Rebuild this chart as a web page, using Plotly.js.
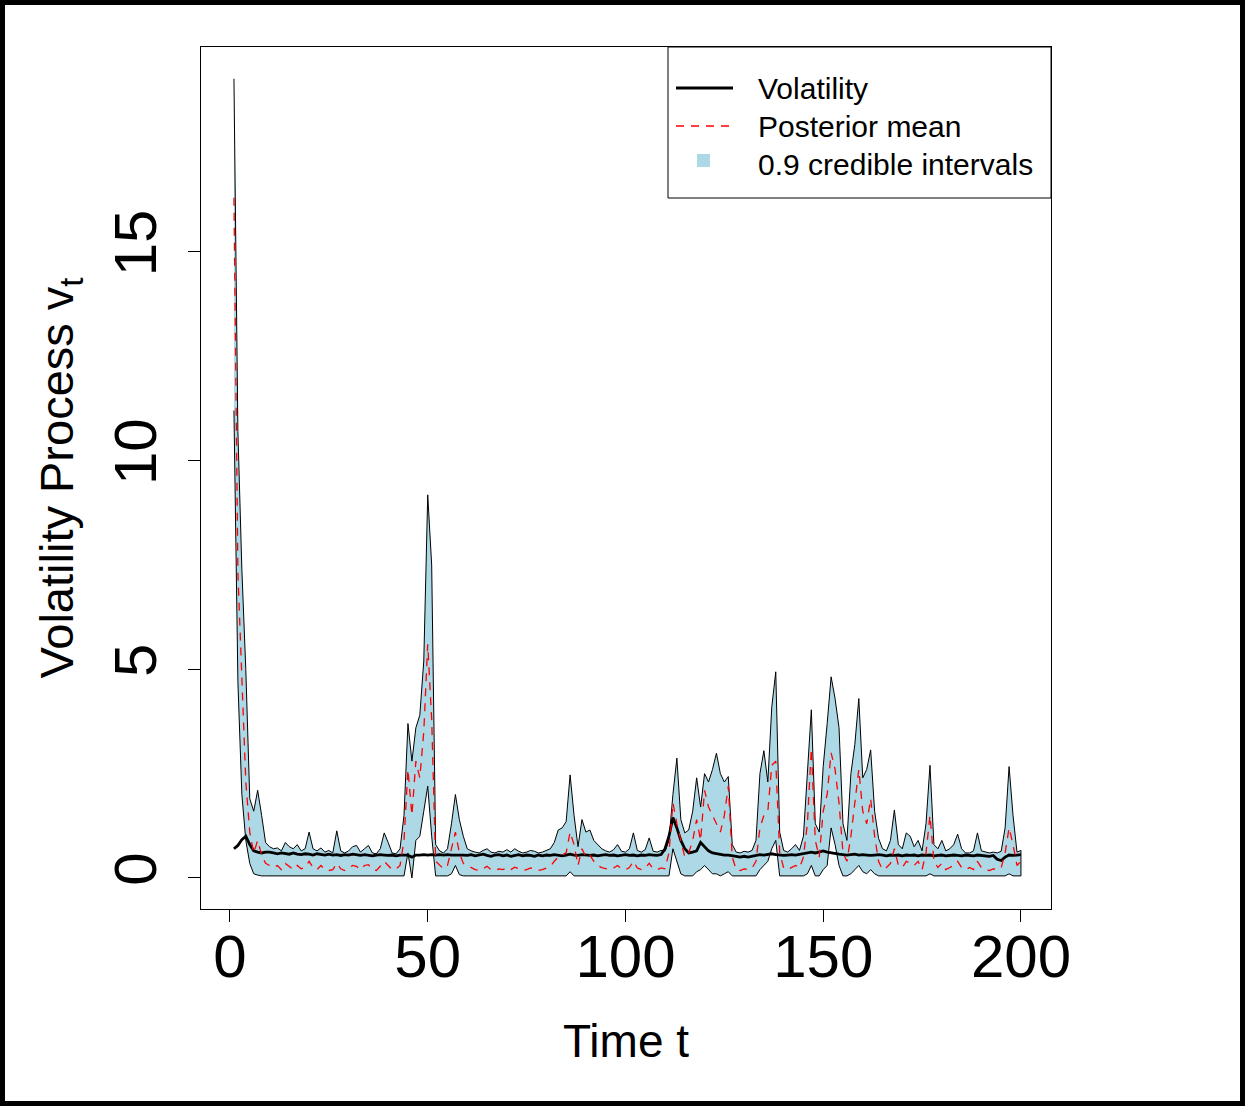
<!DOCTYPE html>
<html>
<head>
<meta charset="utf-8">
<script src="https://cdn.plot.ly/plotly-3.0.1.min.js"></script>
<style>
  html, body { margin: 0; padding: 0; background: #fff; }
  #wrap { position: relative; width: 1245px; height: 1106px; }
  #chart { position: absolute; left: 0; top: 0; width: 1245px; height: 1106px; }
  #frame { position: absolute; left: 0; top: 0; width: 1245px; height: 1106px; box-sizing: border-box; border: 5px solid #000; pointer-events: none; }
</style>
</head>
<body>
<div id="wrap"><div id="chart"></div><div id="frame"></div></div>
<script>
// ---- data ----
const upperCI = [
  19.15, 10.7, 7.4, 5.0, 1.9, 1.6, 2.1, 1.5, 0.85, 0.75,
  0.70, 0.72, 0.65, 0.85, 0.75, 0.70, 0.80, 0.65, 0.70, 1.10,
  0.70, 0.65, 0.72, 0.62, 0.66, 0.60, 1.13, 0.65, 0.60, 0.65,
  0.75, 0.78, 0.62, 0.70, 0.78, 0.60, 0.58, 0.70, 1.08, 0.85,
  0.60, 0.58, 0.70, 1.50, 3.70, 2.80, 3.60, 3.90, 5.20, 9.18,
  7.50, 0.80, 0.65, 0.60, 0.70, 1.30, 2.00, 1.40, 1.00, 0.70,
  0.65, 0.62, 0.60, 0.66, 0.70, 0.62, 0.60, 0.64, 0.62, 0.68,
  0.62, 0.70, 0.64, 0.60, 0.62, 0.66, 0.64, 0.60, 0.62, 0.66,
  0.70, 0.85, 1.15, 1.20, 1.35, 2.47, 1.50, 0.75, 1.40, 1.10,
  1.15, 0.90, 0.80, 0.70, 0.65, 0.62, 0.68, 0.80, 0.64, 0.62,
  0.70, 1.08, 0.66, 0.62, 0.68, 0.96, 0.64, 0.62, 0.66, 0.64,
  0.90, 2.00, 2.87, 1.40, 1.08, 1.15, 1.60, 2.40, 1.70, 2.50,
  2.30, 2.60, 2.99, 2.50, 2.30, 2.43, 0.80, 0.62, 0.60, 0.64,
  0.62, 0.66, 0.90, 2.50, 3.05, 2.30, 4.10, 4.94, 1.10, 0.66,
  0.62, 0.70, 0.80, 0.66, 1.00, 2.60, 4.03, 1.30, 1.10, 2.67,
  3.70, 4.82, 4.30, 3.60, 1.30, 0.90, 2.50, 3.20, 4.30, 2.40,
  2.60, 3.07, 1.60, 0.95, 0.70, 0.65, 0.90, 1.63, 0.80, 0.70,
  1.08, 1.00, 0.75, 0.90, 0.65, 1.30, 2.70, 0.80, 0.70, 0.90,
  0.65, 0.70, 0.80, 1.05, 0.70, 0.60, 0.60, 0.65, 1.08, 0.65,
  0.62, 0.60, 0.62, 0.60, 0.64, 1.20, 2.67, 1.50, 0.62, 0.66
];
const posteriorMean = [
  16.3, 7.3, 4.8, 2.3, 1.1, 0.6, 0.9, 0.55, 0.35, 0.30,
  0.25, 0.30, 0.20, 0.35, 0.28, 0.20, 0.30, 0.22, 0.25, 0.40,
  0.25, 0.20, 0.30, 0.20, 0.18, 0.20, 0.35, 0.22, 0.18, 0.25,
  0.30, 0.28, 0.20, 0.30, 0.32, 0.20, 0.18, 0.28, 0.40, 0.30,
  0.20, 0.22, 0.30, 0.90, 2.60, 1.50, 2.80, 2.40, 3.50, 5.60,
  3.80, 0.40, 0.30, 0.22, 0.30, 0.70, 1.10, 0.60, 0.35, 0.30,
  0.25, 0.20, 0.18, 0.22, 0.28, 0.20, 0.18, 0.22, 0.20, 0.25,
  0.20, 0.26, 0.22, 0.18, 0.20, 0.24, 0.22, 0.18, 0.20, 0.24,
  0.28, 0.40, 0.50, 0.55, 0.60, 1.10, 0.80, 0.30, 0.70, 0.50,
  0.55, 0.40, 0.30, 0.25, 0.22, 0.20, 0.24, 0.30, 0.22, 0.20,
  0.25, 0.40, 0.24, 0.20, 0.24, 0.35, 0.22, 0.20, 0.24, 0.22,
  0.60, 1.80, 1.30, 0.90, 0.50, 0.60, 0.90, 1.40, 0.90, 2.10,
  1.70, 1.50, 1.30, 1.10, 1.50, 2.20, 0.50, 0.20, 0.18, 0.22,
  0.20, 0.24, 0.40, 1.20, 1.50, 1.60, 2.70, 2.80, 0.60, 0.24,
  0.20, 0.26, 0.30, 0.24, 0.50, 1.30, 3.10, 0.90, 0.50, 1.60,
  2.00, 3.00, 2.60, 1.80, 0.60, 0.40, 1.00, 1.80, 2.60, 1.60,
  1.30, 1.90, 1.00, 0.40, 0.20, 0.25, 0.35, 0.70, 0.30, 0.25,
  0.40, 0.35, 0.30, 0.40, 0.20, 0.60, 1.50, 0.40, 0.25, 0.35,
  0.20, 0.25, 0.30, 0.40, 0.25, 0.20, 0.25, 0.20, 0.40, 0.25,
  0.20, 0.18, 0.22, 0.20, 0.24, 0.60, 1.20, 0.80, 0.30, 0.40
];
const lowerCI = [
  11.2, 4.7, 2.0, 0.9, 0.35, 0.10, 0.07, 0.05, 0.05, 0.05,
  0.05, 0.05, 0.05, 0.05, 0.05, 0.05, 0.05, 0.05, 0.05, 0.05,
  0.05, 0.05, 0.05, 0.05, 0.05, 0.05, 0.05, 0.05, 0.05, 0.05,
  0.05, 0.05, 0.05, 0.05, 0.05, 0.05, 0.05, 0.05, 0.05, 0.05,
  0.05, 0.05, 0.05, 0.05, 0.60, 0.00, 0.90, 1.00, 1.60, 2.20,
  1.00, 0.05, 0.05, 0.05, 0.05, 0.10, 0.30, 0.08, 0.05, 0.05,
  0.05, 0.05, 0.05, 0.05, 0.05, 0.05, 0.05, 0.05, 0.05, 0.05,
  0.05, 0.05, 0.05, 0.05, 0.05, 0.05, 0.05, 0.05, 0.05, 0.05,
  0.05, 0.05, 0.05, 0.05, 0.05, 0.15, 0.05, 0.05, 0.05, 0.05,
  0.05, 0.05, 0.05, 0.05, 0.05, 0.05, 0.05, 0.05, 0.05, 0.05,
  0.05, 0.05, 0.05, 0.05, 0.05, 0.05, 0.05, 0.05, 0.05, 0.05,
  0.05, 0.70, 0.40, 0.10, 0.05, 0.05, 0.05, 0.15, 0.20, 0.30,
  0.20, 0.10, 0.10, 0.05, 0.10, 0.15, 0.05, 0.05, 0.05, 0.05,
  0.05, 0.05, 0.05, 0.20, 0.30, 0.40, 0.70, 0.90, 0.05, 0.05,
  0.05, 0.05, 0.05, 0.05, 0.05, 0.10, 0.30, 0.05, 0.05, 0.20,
  0.30, 1.20, 0.80, 0.30, 0.05, 0.05, 0.10, 0.20, 0.30, 0.15,
  0.10, 0.20, 0.10, 0.05, 0.05, 0.05, 0.05, 0.05, 0.05, 0.05,
  0.05, 0.05, 0.05, 0.05, 0.05, 0.05, 0.10, 0.05, 0.05, 0.05,
  0.05, 0.05, 0.05, 0.05, 0.05, 0.05, 0.05, 0.05, 0.05, 0.05,
  0.05, 0.05, 0.05, 0.05, 0.05, 0.05, 0.10, 0.05, 0.05, 0.05
];
const volatility = [
  0.70, 0.78, 0.92, 1.00, 0.80, 0.65, 0.62, 0.60, 0.62, 0.62,
  0.60, 0.58, 0.60, 0.58, 0.57, 0.60, 0.57, 0.56, 0.58, 0.57,
  0.55, 0.58, 0.56, 0.55, 0.57, 0.55, 0.56, 0.54, 0.56, 0.55,
  0.57, 0.55, 0.54, 0.56, 0.55, 0.53, 0.55, 0.56, 0.55, 0.54,
  0.55, 0.53, 0.55, 0.55, 0.55, 0.50, 0.55, 0.55, 0.56, 0.55,
  0.56, 0.55, 0.56, 0.55, 0.56, 0.55, 0.55, 0.56, 0.55, 0.54,
  0.56, 0.53, 0.55, 0.57, 0.54, 0.52, 0.55, 0.56, 0.53, 0.55,
  0.52, 0.54, 0.56, 0.53, 0.55, 0.54, 0.52, 0.55, 0.53, 0.55,
  0.54, 0.56, 0.55, 0.53, 0.55, 0.57, 0.55, 0.54, 0.56, 0.55,
  0.54, 0.55, 0.53, 0.55, 0.56, 0.54, 0.55, 0.53, 0.55, 0.56,
  0.54, 0.55, 0.53, 0.55, 0.54, 0.56, 0.55, 0.54, 0.56, 0.70,
  1.00, 1.45, 1.20, 0.90, 0.70, 0.60, 0.62, 0.65, 0.85, 0.75,
  0.65, 0.60, 0.58, 0.56, 0.55, 0.55, 0.54, 0.52, 0.50, 0.52,
  0.50, 0.52, 0.55, 0.56, 0.55, 0.57, 0.58, 0.56, 0.55, 0.54,
  0.55, 0.56, 0.55, 0.57, 0.58, 0.60, 0.62, 0.60, 0.62, 0.65,
  0.62, 0.60, 0.58, 0.57, 0.56, 0.55, 0.56, 0.57, 0.55, 0.56,
  0.55, 0.54, 0.55, 0.56, 0.55, 0.53, 0.55, 0.54, 0.55, 0.53,
  0.55, 0.54, 0.55, 0.53, 0.55, 0.54, 0.55, 0.53, 0.54, 0.55,
  0.53, 0.54, 0.55, 0.54, 0.53, 0.55, 0.54, 0.53, 0.55, 0.54,
  0.53, 0.52, 0.54, 0.45, 0.42, 0.50, 0.55, 0.54, 0.55, 0.56
];
const timeIndex = upperCI.map((_, i) => i + 1);
const xTicks = [0, 50, 100, 150, 200];
const yTicks = [0, 5, 10, 15];
const legendLabels = ['Volatility', 'Posterior mean', '0.9 credible intervals'];

// ---- geometry helpers (pixel -> paper) ----
const W = 1245, H = 1106;
const M = { l: 201, r: 194, t: 47, b: 197 };
const PW = W - M.l - M.r, PH = H - M.t - M.b;
const px = x => (x - M.l) / PW;
const py = y => (H - M.b - y) / PH;

const FONT = 'Liberation Sans, Arial, Helvetica, sans-serif';

// polygon: lower forward, upper backward
const polyX = timeIndex.concat(timeIndex.slice().reverse());
const polyY = lowerCI.concat(upperCI.slice().reverse());

const traces = [
  {
    x: polyX, y: polyY, type: 'scatter', mode: 'lines', fill: 'toself',
    fillcolor: '#ADD8E6', line: { color: '#000', width: 1 },
    name: legendLabels[2], showlegend: false, hoverinfo: 'skip'
  },
  {
    x: timeIndex, y: volatility, type: 'scatter', mode: 'lines',
    line: { color: '#000', width: 2.8 }, name: legendLabels[0], showlegend: false
  },
  {
    x: timeIndex, y: posteriorMean, type: 'scatter', mode: 'lines',
    line: { color: '#FF0000', width: 1.3, dash: '8px,7px' }, name: legendLabels[1], showlegend: false
  }
];

const shapes = [
  // legend box
  { type: 'rect', xref: 'paper', yref: 'paper', x0: px(668), x1: px(1051), y0: py(198), y1: py(47),
    line: { color: '#000', width: 1 }, fillcolor: '#fff', layer: 'above' },
  { type: 'line', xref: 'paper', yref: 'paper', x0: px(676), x1: px(733), y0: py(88), y1: py(88),
    line: { color: '#000', width: 2.8 }, layer: 'above' },
  { type: 'line', xref: 'paper', yref: 'paper', x0: px(676), x1: px(733), y0: py(126), y1: py(126),
    line: { color: '#FF0000', width: 1.3, dash: '8px,7px' }, layer: 'above' },
  { type: 'rect', xref: 'paper', yref: 'paper', x0: px(697), x1: px(710), y0: py(167), y1: py(154),
    line: { width: 0 }, fillcolor: '#ADD8E6', layer: 'above' }
];

const annotations = legendLabels.map((txt, i) => ({
  xref: 'paper', yref: 'paper', x: px(756), y: py([88, 126, 164][i]),
  xanchor: 'left', yanchor: 'middle', showarrow: false, text: txt,
  font: { family: FONT, size: 30, color: '#000' }
}));

const layout = {
  width: W, height: H, autosize: false,
  margin: M,
  paper_bgcolor: '#fff', plot_bgcolor: '#fff',
  showlegend: false,
  font: { family: FONT, color: '#000' },
  xaxis: {
    range: [-7.33, 207.6], tickvals: xTicks, ticktext: xTicks.map(String),
    ticks: 'outside', ticklen: 12, tickwidth: 1, tickcolor: '#000',
    ticklabelstandoff: -17,
    showline: true, linecolor: '#000', linewidth: 1, mirror: true,
    showgrid: false, zeroline: false,
    tickfont: { family: FONT, size: 60, color: '#000' },
    title: { text: 'Time t', font: { family: FONT, size: 46, color: '#000' }, standoff: 35 }
  },
  yaxis: {
    range: [-0.743, 19.91], tickvals: yTicks, ticktext: yTicks.map(String),
    tickangle: -90,
    ticks: 'outside', ticklen: 12, tickwidth: 1, tickcolor: '#000',
    ticklabelstandoff: 8,
    showline: true, linecolor: '#000', linewidth: 1, mirror: true,
    showgrid: false, zeroline: false,
    tickfont: { family: FONT, size: 60, color: '#000' },
    title: { text: 'Volatility Process v<sub>t</sub>', font: { family: FONT, size: 47, color: '#000' }, standoff: 13 }
  },
  shapes: shapes,
  annotations: annotations
};

Plotly.newPlot('chart', traces, layout, { displayModeBar: false, staticPlot: true });
</script>
</body>
</html>
